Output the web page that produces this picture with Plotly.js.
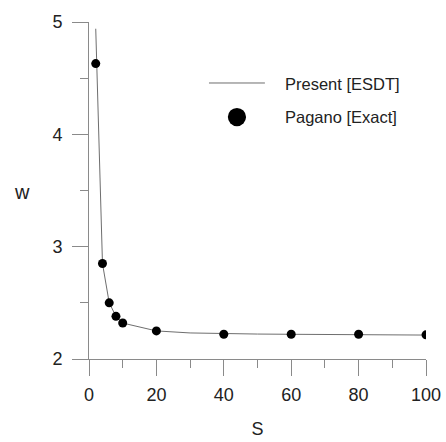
<!DOCTYPE html>
<html>
<head>
<meta charset="utf-8">
<script src="https://cdn.plot.ly/plotly-3.0.1.min.js"></script>
<style>
  html, body { margin: 0; padding: 0; background: #fff; }
  #chart { width: 446px; height: 442px; }
</style>
</head>
<body>
<div id="chart"></div>
<script>
// Present [ESDT] solution (continuous curve)
const esdtS = [2, 4, 6, 8, 10, 20, 30, 40, 50, 60, 70, 80, 90, 100];
const esdtW = [4.94, 2.85, 2.50, 2.38, 2.32, 2.25, 2.232, 2.225, 2.222, 2.22, 2.218, 2.217, 2.215, 2.213];

// Pagano [Exact] reference values
const paganoS = [2, 4, 6, 8, 10, 20, 40, 60, 80, 100];
const paganoW = [4.63, 2.85, 2.50, 2.38, 2.32, 2.25, 2.22, 2.22, 2.22, 2.215];

// Tick labels
const xTicks = [0, 20, 40, 60, 80, 100];
const yTicks = [2, 3, 4, 5];

// Legend labels
const seriesNames = ['Present [ESDT]', 'Pagano [Exact]'];

const FONT = 'Liberation Sans, Arial, sans-serif';
const TXT = '#222';
const AX = '#8a8a8a';

const traces = [
  {
    x: esdtS, y: esdtW, mode: 'lines', name: seriesNames[0],
    line: { color: '#6e6e6e', width: 1 }, showlegend: false, hoverinfo: 'skip'
  },
  {
    x: paganoS, y: paganoW, mode: 'markers', name: seriesNames[1],
    marker: { color: '#000', size: 9 }, showlegend: false, hoverinfo: 'skip'
  }
];

const axisCommon = {
  showline: true, linecolor: AX, linewidth: 1,
  showgrid: false, zeroline: false,
  ticks: 'outside', ticklen: 16, tickwidth: 1, tickcolor: AX,
  tickfont: { family: FONT, size: 18, color: TXT },
  mirror: false
};

const layout = {
  width: 446, height: 442,
  margin: { l: 89, r: 20, t: 22, b: 83 },
  paper_bgcolor: '#fff', plot_bgcolor: '#fff',
  showlegend: false,
  xaxis: Object.assign({}, axisCommon, {
    range: [0, 100], tickvals: xTicks, ticktext: xTicks.map(String),
    ticklabelstandoff: 3,
    minor: { dtick: 10, tick0: 0, ticks: 'outside', ticklen: 8, tickcolor: AX, tickwidth: 1 },
    title: { text: 'S', font: { family: FONT, size: 18, color: TXT }, standoff: 18 }
  }),
  yaxis: Object.assign({}, axisCommon, {
    range: [2, 5], tickvals: yTicks, ticktext: yTicks.map(String),
    ticklabelstandoff: 6,
    minor: { dtick: 0.5, tick0: 2, ticks: 'outside', ticklen: 8, tickcolor: AX, tickwidth: 1 }
  }),
  shapes: [
    // legend line sample
    { type: 'line', xref: 'paper', yref: 'paper', x0: 0.356, x1: 0.522, y0: 0.819, y1: 0.819,
      line: { color: '#6e6e6e', width: 1 } },
    // legend marker sample
    { type: 'circle', xref: 'paper', yref: 'paper', x0: 0.412, x1: 0.466, y0: 0.691, y1: 0.745,
      fillcolor: '#000', line: { color: '#000', width: 0 } }
  ],
  annotations: [
    { text: 'w', xref: 'paper', yref: 'paper', x: (22 - 89) / 337, y: (359 - 192) / 337,
      xanchor: 'center', yanchor: 'middle', showarrow: false,
      font: { family: FONT, size: 20, color: TXT } },
    { text: seriesNames[0], xref: 'paper', yref: 'paper', x: 0.5757, y: 0.817,
      xanchor: 'left', yanchor: 'middle', showarrow: false,
      font: { family: FONT, size: 16.5, color: TXT } },
    { text: seriesNames[1], xref: 'paper', yref: 'paper', x: 0.5757, y: 0.719,
      xanchor: 'left', yanchor: 'middle', showarrow: false,
      font: { family: FONT, size: 16.5, color: TXT } }
  ]
};

Plotly.newPlot('chart', traces, layout, { staticPlot: true, displayModeBar: false });
</script>
</body>
</html>
